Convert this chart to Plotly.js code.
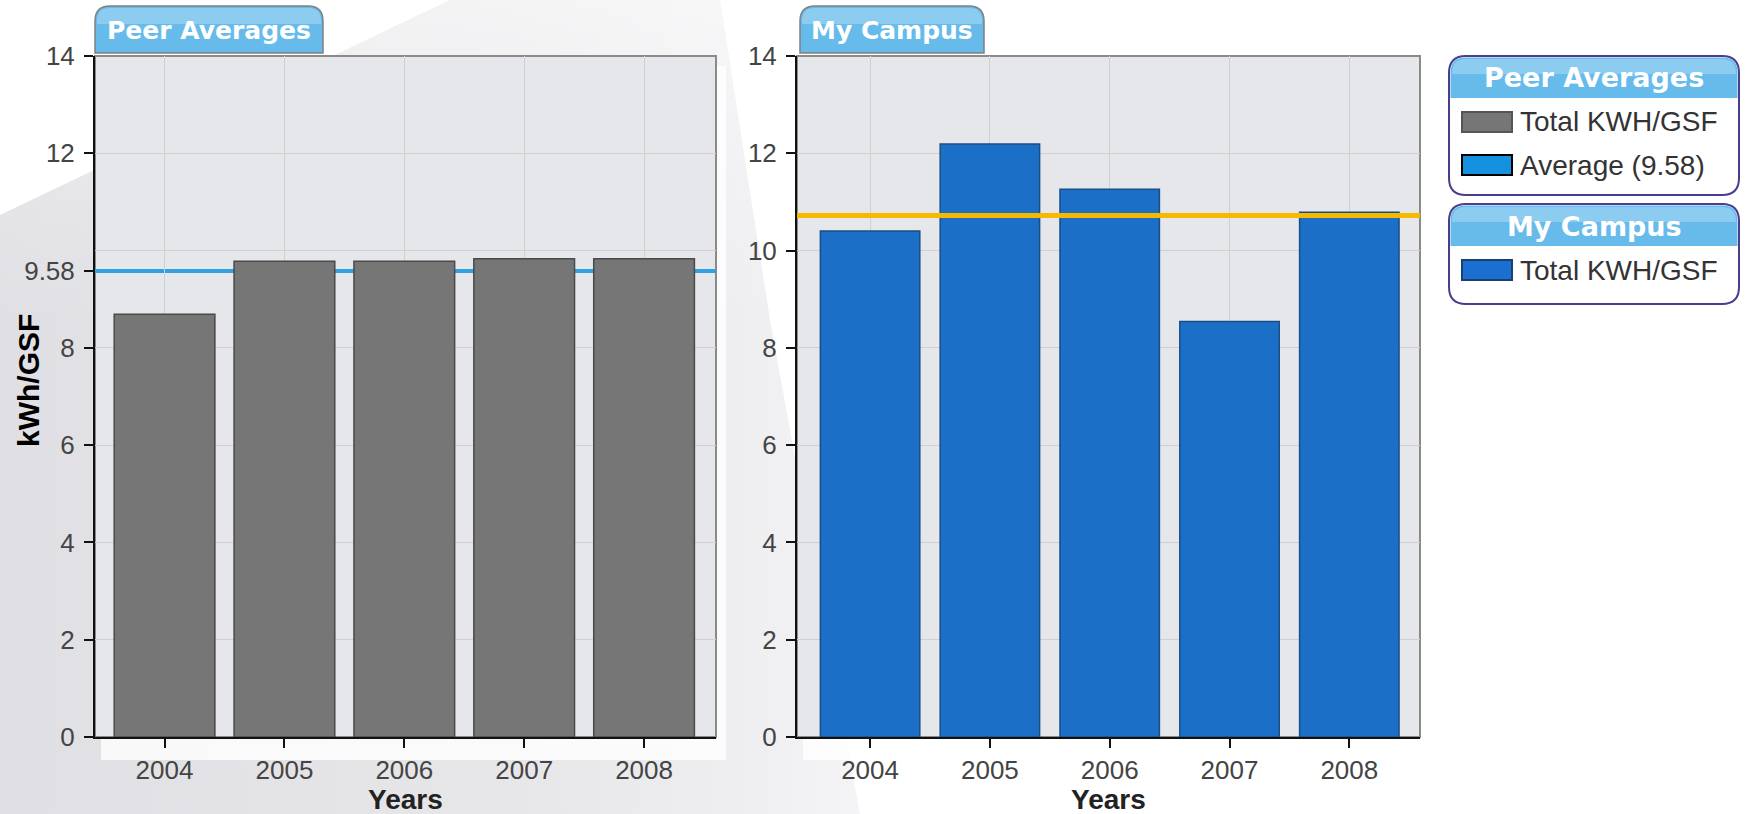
<!DOCTYPE html>
<html>
<head>
<meta charset="utf-8">
<script src="https://cdn.plot.ly/plotly-3.0.1.min.js"></script>
<style>
  html, body { margin: 0; padding: 0; background: #ffffff; }
  body { width: 1746px; height: 814px; overflow: hidden; position: relative; }
  #swoosh {
    position: absolute; left: 0; top: 0; width: 1746px; height: 814px;
    clip-path: polygon(0px 215px, 450px 0px, 720px 0px, 770px 320px, 860px 814px, 0px 814px);
    background:
      linear-gradient(180deg, rgba(255,255,255,0.55) 0%, rgba(255,255,255,0.15) 25%, rgba(255,255,255,0) 40%),
      linear-gradient(90deg, #e0e0e4 0%, #e7e7ea 30%, #eeeef1 42%, #f5f5f7 50%);
  }
  #chart { position: absolute; left: 0; top: 0; width: 1746px; height: 814px; }
</style>
</head>
<body>
<div id="swoosh"></div>
<div id="chart"></div>
<script>
// ---------- data ----------
const years = ['2004', '2005', '2006', '2007', '2008'];
const peerKwh = [8.69, 9.78, 9.78, 9.83, 9.83];
const campusKwh = [10.40, 12.19, 11.26, 8.54, 10.79];
const campusReference = 10.72;
const peerTitle = 'Peer Averages';
const campusTitle = 'My Campus';
const seriesName = 'Total KWH/GSF';
const yTicksRight = [0, 2, 4, 6, 8, 10, 12, 14];
const yGridLeft = [2, 4, 6, 8, 10, 12, 14];

const peerAverage = peerKwh.reduce((a, b) => a + b, 0) / peerKwh.length;
const peerAvgLabel = peerAverage.toFixed(2);
const yTicksLeft = [0, 2, 4, 6, 8, Number(peerAvgLabel), 12, 14];
const yTickTextLeft = yTicksLeft.map(v => String(v));

// ---------- geometry helpers (pixel -> paper) ----------
const W = 1746, H = 814;
const px = x => x / W;
const py = y => 1 - y / H;
const P = (x, y) => px(x).toFixed(5) + ',' + py(y).toFixed(5);

function roundRect(x0, y0, x1, y1, r, topOnly) {
  let d = 'M' + P(x0, y0 + r) + ' Q' + P(x0, y0) + ' ' + P(x0 + r, y0) +
          ' L' + P(x1 - r, y0) + ' Q' + P(x1, y0) + ' ' + P(x1, y0 + r);
  if (topOnly) {
    d += ' L' + P(x1, y1) + ' L' + P(x0, y1) + ' Z';
  } else {
    d += ' L' + P(x1, y1 - r) + ' Q' + P(x1, y1) + ' ' + P(x1 - r, y1) +
         ' L' + P(x0 + r, y1) + ' Q' + P(x0, y1) + ' ' + P(x0, y1 - r) + ' Z';
  }
  return d;
}

const FONT = '"Liberation Sans", Arial, sans-serif';
const TABFONT = '"DejaVu Sans", Verdana, sans-serif';

const grayBar = '#767676', grayEdge = '#4a4a4a';
const blueBar = '#1c6fc6', blueEdge = '#184f84';
const avgBlue = '#33a0e2', orange = '#f7b900';

// ---------- traces ----------
const traces = [
  {
    type: 'bar', x: years, y: peerKwh, name: seriesName,
    xaxis: 'x', yaxis: 'y', width: 0.84,
    marker: { color: grayBar, line: { color: grayEdge, width: 1.5 } },
    hoverinfo: 'x+y', showlegend: false
  },
  {
    type: 'bar', x: years, y: campusKwh, name: seriesName,
    xaxis: 'x2', yaxis: 'y2', width: 0.83,
    marker: { color: blueBar, line: { color: blueEdge, width: 1.5 } },
    hoverinfo: 'x+y', showlegend: false
  }
];

// ---------- axes ----------
const tickFont = { family: FONT, size: 26, color: '#444' };
const plotBg = '#e5e7ea';

function xAxis(domain, range, anchor) {
  return {
    domain: domain, range: range, anchor: anchor, type: 'category',
    showgrid: true, gridcolor: '#d0d0d0', gridwidth: 1,
    showline: true, linecolor: '#111', linewidth: 2,
    ticks: 'outside', ticklen: 9, tickcolor: '#111', tickwidth: 2,
    tickfont: tickFont, ticklabelstandoff: 0,
    fixedrange: true, zeroline: false
  };
}
function yAxis(anchor) {
  return {
    domain: [1 - 737 / H, 1 - 56 / H], range: [0, 14], anchor: anchor,
    tickmode: 'array',
    showline: true, linecolor: '#111', linewidth: 2,
    ticks: 'outside', ticklen: 9, tickcolor: '#111', tickwidth: 2,
    tickfont: tickFont, ticklabelstandoff: 4,
    gridcolor: '#d0d0d0', gridwidth: 1,
    zeroline: false, fixedrange: true
  };
}

const yL = yAxis('x');
yL.tickvals = yTicksLeft; yL.ticktext = yTickTextLeft; yL.showgrid = false;
yL.minor = { tickmode: 'array', tickvals: yGridLeft, showgrid: true, gridcolor: '#d0d0d0', gridwidth: 1, ticks: '' };
const yR = yAxis('x2');
yR.tickvals = yTicksRight; yR.showgrid = true;

const layout = {
  width: W, height: H,
  margin: { l: 0, r: 0, t: 0, b: 0 },
  paper_bgcolor: 'rgba(0,0,0,0)',
  plot_bgcolor: plotBg,
  showlegend: false,
  xaxis: xAxis([px(95), px(716)], [-0.58, 4.6], 'y'),
  xaxis2: xAxis([px(797), px(1420)], [-0.61, 4.59], 'y2'),
  yaxis: yL,
  yaxis2: yR,
  shapes: [],
  annotations: []
};

// light shadow bands just outside the plots (bottom and right)
[[95, 716], [797, 1420]].forEach(r => {
  layout.shapes.push({
    type: 'rect', xref: 'paper', yref: 'paper', layer: 'below',
    x0: px(r[0] + 6), x1: px(r[1] + 10), y0: py(760), y1: py(739),
    fillcolor: 'rgba(255,255,255,0.8)', line: { width: 0 }
  });
  layout.shapes.push({
    type: 'rect', xref: 'paper', yref: 'paper', layer: 'below',
    x0: px(r[1] + 1), x1: px(r[1] + 10), y0: py(739), y1: py(66),
    fillcolor: 'rgba(255,255,255,0.8)', line: { width: 0 }
  });
});

// plot frames (gray top/right)
['x', 'x2'].forEach((xa, i) => {
  const ya = i === 0 ? 'y' : 'y2';
  layout.shapes.push({
    type: 'rect', xref: xa + ' domain', yref: ya + ' domain',
    x0: 0, x1: 1, y0: 0, y1: 1, layer: 'below',
    line: { color: '#8a8a8a', width: 2 }, fillcolor: 'rgba(0,0,0,0)'
  });
});

// average / reference lines
layout.shapes.push({
  type: 'line', xref: 'x domain', yref: 'y', x0: 0, x1: 1,
  y0: Number(peerAvgLabel), y1: Number(peerAvgLabel),
  layer: 'below', line: { color: avgBlue, width: 4 }
});
layout.shapes.push({
  type: 'line', xref: 'x2 domain', yref: 'y2', x0: 0, x1: 1,
  y0: campusReference, y1: campusReference,
  layer: 'above', line: { color: orange, width: 5 }
});

// ---------- tabs above plots ----------
function tab(x0, x1, label) {
  layout.shapes.push({
    type: 'path', xref: 'paper', yref: 'paper', layer: 'above',
    path: roundRect(x0, 6, x1, 53, 15, true),
    fillcolor: '#66bbeb', line: { color: '#808080', width: 1.5 }
  });
  layout.shapes.push({
    type: 'path', xref: 'paper', yref: 'paper', layer: 'above',
    path: roundRect(x0 + 2, 8, x1 - 2, 24, 13, true),
    fillcolor: 'rgba(255,255,255,0.25)', line: { width: 0 }
  });
  layout.annotations.push({
    xref: 'paper', yref: 'paper', x: px((x0 + x1) / 2), y: py(31),
    xanchor: 'center', yanchor: 'middle', showarrow: false,
    text: '<b>' + label + '</b>',
    font: { family: TABFONT, size: 25, color: '#ffffff' }
  });
}
tab(95, 323, peerTitle);
tab(800, 984, campusTitle);

// ---------- axis titles ----------
layout.annotations.push({
  xref: 'paper', yref: 'paper', x: px(28), y: py(381),
  xanchor: 'center', yanchor: 'middle', showarrow: false, textangle: -90,
  text: '<b>kWh/GSF</b>', font: { family: FONT, size: 30, color: '#000' }
});
['x', 'x2'].forEach(xa => {
  layout.annotations.push({
    xref: xa + ' domain', yref: 'paper', x: 0.5, y: py(799),
    xanchor: 'center', yanchor: 'middle', showarrow: false,
    text: '<b>Years</b>', font: { family: FONT, size: 28, color: '#222' }
  });
});

// ---------- legend boxes ----------
function legendBox(y0, y1, title, items) {
  const x0 = 1449, x1 = 1739;
  layout.shapes.push({
    type: 'path', xref: 'paper', yref: 'paper', layer: 'above',
    path: roundRect(x0, y0, x1, y1, 17, false),
    fillcolor: '#ffffff', line: { color: '#4a3d8c', width: 2 }
  });
  layout.shapes.push({
    type: 'path', xref: 'paper', yref: 'paper', layer: 'above',
    path: roundRect(x0 + 1.5, y0 + 1.5, x1 - 1.5, y0 + 42, 15, true),
    fillcolor: '#66bbeb', line: { width: 0 }
  });
  layout.shapes.push({
    type: 'path', xref: 'paper', yref: 'paper', layer: 'above',
    path: roundRect(x0 + 3, y0 + 3, x1 - 3, y0 + 18, 14, true),
    fillcolor: 'rgba(255,255,255,0.25)', line: { width: 0 }
  });
  layout.annotations.push({
    xref: 'paper', yref: 'paper', x: px((x0 + x1) / 2), y: py(y0 + 22),
    xanchor: 'center', yanchor: 'middle', showarrow: false,
    text: '<b>' + title + '</b>', font: { family: TABFONT, size: 27, color: '#ffffff' }
  });
  items.forEach((it, i) => {
    const cy = y0 + 66 + i * 43;
    layout.shapes.push({
      type: 'rect', xref: 'paper', yref: 'paper', layer: 'above',
      x0: px(1462), x1: px(1512), y0: py(cy - 10), y1: py(cy + 10),
      fillcolor: it.color, line: { color: it.edge, width: 2 }
    });
    layout.annotations.push({
      xref: 'paper', yref: 'paper', x: px(1518), y: py(cy),
      xanchor: 'left', yanchor: 'middle', showarrow: false,
      text: it.label, font: { family: FONT, size: 28, color: '#333' }
    });
  });
}
legendBox(56, 195, peerTitle, [
  { label: seriesName, color: grayBar, edge: '#555' },
  { label: 'Average (' + peerAvgLabel + ')', color: '#1591e0', edge: '#000' }
]);
legendBox(204, 304, campusTitle, [
  { label: seriesName, color: '#1a6fd0', edge: '#1a3f70' }
]);

Plotly.newPlot('chart', traces, layout, { staticPlot: true, displayModeBar: false });
</script>
</body>
</html>
